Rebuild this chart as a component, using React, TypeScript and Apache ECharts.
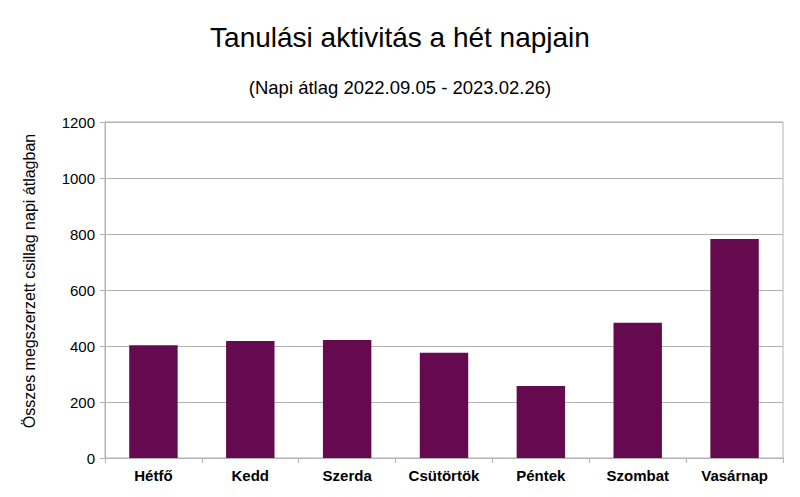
import React, { useEffect, useRef } from "react";
import * as echarts from "echarts";

const categories = ["Hétfő", "Kedd", "Szerda", "Csütörtök", "Péntek", "Szombat", "Vasárnap"];
const values = [403, 418, 421, 376, 257, 483, 782];
const titleText = "Tanulási aktivitás a hét napjain";
const subtitleText = "(Napi átlag 2022.09.05 - 2023.02.26)";
const yAxisName = "Összes megszerzett csillag napi átlagban";

export default function App() {
  const ref = useRef<HTMLDivElement>(null);
  useEffect(() => {
    const chart = echarts.init(ref.current!, null, { renderer: "svg" });
    chart.setOption({
      animation: false,
      backgroundColor: "#ffffff",
      textStyle: { fontFamily: "Liberation Sans" },
      title: [
        {
          text: titleText,
          left: "center",
          top: 18,
          textStyle: { fontSize: 28, fontWeight: "normal", color: "#000", fontFamily: "Liberation Sans" },
        },
        {
          text: subtitleText,
          left: "center",
          top: 73,
          textStyle: { fontSize: 18.5, fontWeight: "normal", color: "#000", fontFamily: "Liberation Sans" },
        },
      ],
      grid: {
        left: 105,
        right: 17,
        top: 122,
        bottom: 39,
        show: true,
        borderColor: "#b3b3b3",
        borderWidth: 1,
        containLabel: false,
      },
      xAxis: {
        type: "category",
        data: categories,
        axisLine: { show: true, lineStyle: { color: "#b3b3b3" } },
        axisTick: { show: true, alignWithLabel: false, length: 5, lineStyle: { color: "#b3b3b3" } },
        axisLabel: { color: "#000", fontSize: 15, fontWeight: "bold", margin: 10, fontFamily: "Liberation Sans" },
      },
      yAxis: {
        type: "value",
        min: 0,
        max: 1200,
        interval: 200,
        name: yAxisName,
        nameLocation: "middle",
        nameGap: 68,
        nameTextStyle: { color: "#000", fontSize: 16, fontFamily: "Liberation Sans", padding: [0, 0, 0, 18] },
        axisLine: { show: true, lineStyle: { color: "#b3b3b3" } },
        axisTick: { show: true, length: 5, lineStyle: { color: "#b3b3b3" } },
        axisLabel: {
          color: "#000",
          fontSize: 15,
          margin: 10,
          fontFamily: "Liberation Sans",
          formatter: (v: number) => String(v),
        },
        splitLine: { show: true, lineStyle: { color: "#b3b3b3" } },
      },
      series: [
        {
          type: "bar",
          data: values,
          barWidth: "50%",
          itemStyle: { color: "#650a4f" },
        },
      ],
    });
    return () => chart.dispose();
  }, []);
  return <div ref={ref} style={{ width: 800, height: 497, position: "absolute", left: 0, top: 0 }} />;
}
